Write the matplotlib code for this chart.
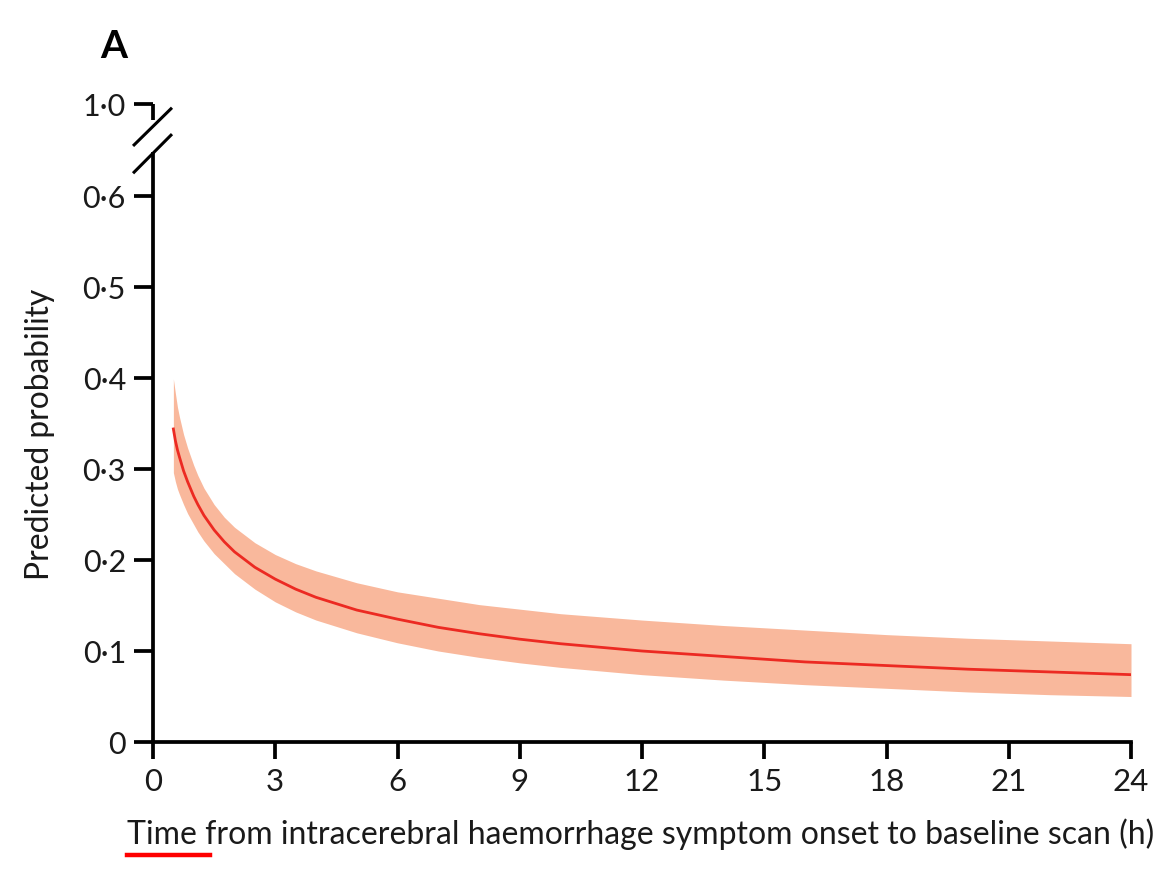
import numpy as np
import matplotlib
matplotlib.use("Agg")
import matplotlib.pyplot as plt
from matplotlib.lines import Line2D

# ── Predicted probability vs onset-to-scan time ──────────────────────────────
hours = [0.5, 0.55, 0.6, 0.65, 0.75, 0.85, 1, 1.1, 1.25, 1.5, 1.75, 2, 2.5,
         3, 3.5, 4, 5, 6, 7, 8, 9, 10, 12, 14, 16, 18, 20, 22, 24]
prob = [0.344, 0.331, 0.321, 0.313, 0.298, 0.286, 0.270, 0.261, 0.249,
        0.233, 0.220, 0.209, 0.192, 0.179, 0.168, 0.159, 0.145, 0.135,
        0.126, 0.119, 0.113, 0.108, 0.100, 0.094, 0.088, 0.084, 0.080,
        0.077, 0.074]
prob_hi = [0.399, 0.383, 0.368, 0.357, 0.338, 0.323, 0.304, 0.293, 0.279,
           0.261, 0.247, 0.236, 0.219, 0.206, 0.196, 0.188, 0.175, 0.165,
           0.158, 0.151, 0.146, 0.141, 0.134, 0.128, 0.123, 0.118, 0.114,
           0.111, 0.108]
prob_lo = [0.296, 0.286, 0.278, 0.272, 0.261, 0.251, 0.239, 0.231, 0.221,
           0.207, 0.196, 0.185, 0.168, 0.154, 0.143, 0.134, 0.120, 0.109,
           0.100, 0.093, 0.087, 0.082, 0.074, 0.068, 0.063, 0.059, 0.055,
           0.052, 0.050]

xticks = [0, 3, 6, 9, 12, 15, 18, 21, 24]
yticks = [0, 0.1, 0.2, 0.3, 0.4, 0.5, 0.6]
ytick_labels = ["0", "0·1", "0·2", "0·3", "0·4", "0·5", "0·6"]
# the axis is broken above 0·6; 1·0 sits at the top of the shortened axis
y_top = 0.7011

plt.rcParams["font.family"] = ["Lato", "DejaVu Sans"]
ink = "#1a1a1a"

W, H = 1168, 873
fig = plt.figure(figsize=(W / 100, H / 100), dpi=100)
ax = fig.add_axes([153 / W, 1 - 742 / H, (1131 - 153) / W, (742 - 104) / H])

ax.fill_between(hours, prob_lo, prob_hi, color="#f9b89c", lw=0)
ax.plot(hours, prob, color="#ec2a22", lw=2.0)

ax.set_xlim(0, 24)
ax.set_ylim(0, y_top)
ax.set_xticks(xticks)
ax.set_xticklabels([str(t) for t in xticks])
ax.set_yticks(yticks + [y_top])
ax.set_yticklabels(ytick_labels + ["1·0"])

for s in ("top", "right"):
    ax.spines[s].set_visible(False)
lw = 2.7
ax.spines["bottom"].set_linewidth(lw)
ax.spines["left"].set_linewidth(lw)
ax.spines["left"].set_bounds(0, 0.6484)
ax.spines["left"].set_capstyle("butt")

# short piece of the axis above the break
ax.add_line(Line2D([0, 0], [0.6835, y_top], transform=ax.get_yaxis_transform(),
                   color="black", lw=lw, clip_on=False, solid_capstyle="butt"))
# break marks
for y0, y1 in [(0.655, 0.697), (0.625, 0.668)]:
    ax.plot([-0.49, 0.466], [y0, y1], color="black", lw=2.2, clip_on=False,
            solid_capstyle="butt")

ax.tick_params(axis="x", direction="out", length=12, width=lw, pad=7,
               labelsize=22.5, labelcolor=ink)
ax.tick_params(axis="y", direction="out", length=13.5, width=lw, pad=6,
               labelsize=22, labelcolor=ink)

fig.text(40 / W, 1 - 434 / H, "Predicted probability", rotation=90,
         ha="center", va="center", fontsize=22.9, color=ink)
fig.text(127 / W, 1 - 834 / H,
         "Time from intracerebral haemorrhage symptom onset to baseline scan (h)",
         ha="left", va="center", fontsize=23, color=ink)
fig.add_artist(Line2D([127 / W, 210 / W], [1 - 855 / H, 1 - 855 / H],
                      transform=fig.transFigure, color="#ff0000", lw=3.2))
fig.text(100 / W, 1 - 46 / H, "A", ha="left", va="center", fontsize=28,
         fontweight="bold", color="black")

fig.savefig("out.png", dpi=100)
